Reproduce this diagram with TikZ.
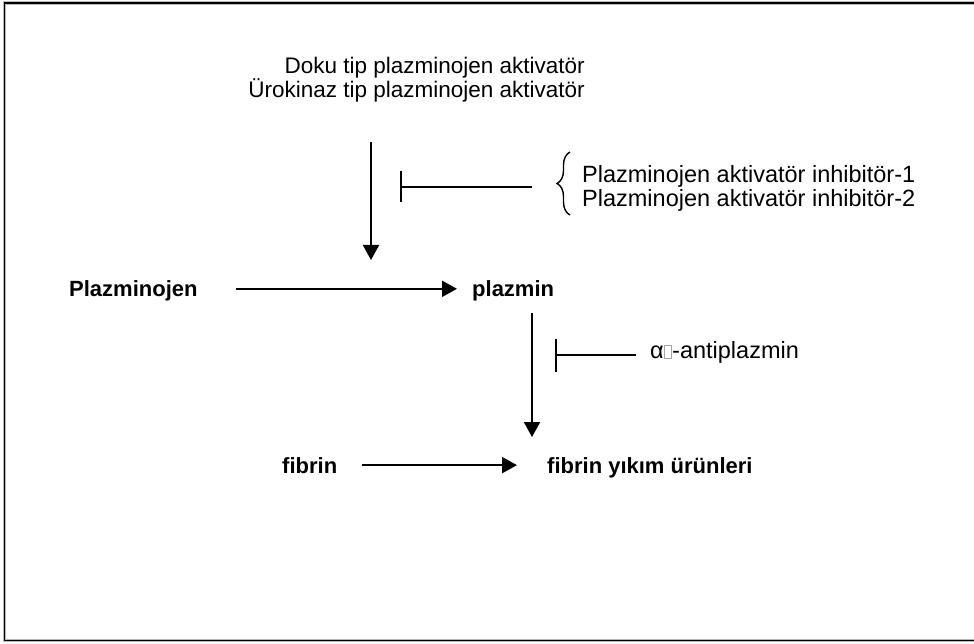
\documentclass[tikz,border=0pt]{standalone}
\usepackage{fontspec}
\setmainfont{Liberation Sans}
\usepackage{xcolor}
\usetikzlibrary{arrows.meta,decorations.pathreplacing}
\newcommand{\missingbox}{{\setlength{\fboxsep}{0pt}\setlength{\fboxrule}{0.7pt}\color{gray!70}\fbox{\rule{0pt}{12pt}\hspace{7pt}}}}
\tikzset{
  reaction/.style={line width=2pt,-{Triangle[length=15pt,width=16pt]}},
  inhibit/.style={line width=2pt,-{Bar[width=31pt,line width=2pt]}},
  actlbl/.style={inner sep=0pt,font=\fontsize{22.5}{25}\selectfont},
  inhlbl/.style={inner sep=0pt,font=\fontsize{23.5}{25}\selectfont},
  species/.style={inner sep=0pt,font=\bfseries\fontsize{22}{25}\selectfont},
}
\begin{document}
\begin{tikzpicture}[x=1pt,y=-1pt]
\useasboundingbox (0,0) rectangle (974,644);
\clip (0,0) rectangle (974,644);
% frame
\draw[gray!55,line width=3.5pt] (4.5,3) rectangle (1000,640.5);
\draw[line width=1.8pt] (4.5,3) rectangle (1000,640.5);
% activators
\node[actlbl,anchor=base east] (tpa) at (585,74) {Doku tip plazminojen aktivatör};
\node[actlbl,anchor=base east] (upa) at (585,98) {Ürokinaz tip plazminojen aktivatör};
\coordinate (act top) at (371,142);
\coordinate (act end) at (371,260);
\draw[reaction] (act top) -- (act end);
% PAI-1, PAI-2
\node[inhlbl,anchor=base west] (pai1) at (582,183) {Plazminojen aktivatör inhibitör-1};
\node[inhlbl,anchor=base west] (pai2) at (582,207) {Plazminojen aktivatör inhibitör-2};
\coordinate (pai from) at (532,187);
\coordinate (pai to) at (400,187);
\draw[inhibit] (pai from) -- (pai to);
\draw[line width=1.4pt,decorate,decoration={brace,amplitude=13pt,aspect=0.5}] (570,215) -- (570,152);
% plasminogen to plasmin
\node[species,anchor=base west] (plg) at (69,297) {Plazminojen};
\node[species,anchor=base west] (pln) at (472,297) {plazmin};
\draw[reaction,shorten <=38pt,shorten >=15pt] ([yshift=2.5pt]plg.east) -- ([yshift=2.5pt]plg.east -| pln.west);
% plasmin on fibrin
\coordinate (pln low) at (532,313);
\coordinate (fbn high) at (532,437);
\draw[reaction] (pln low) -- (fbn high);
\node[inhlbl,anchor=base west] (a2ap) at (650,358) {α\missingbox-antiplazmin};
\coordinate (a2ap from) at (636,355);
\coordinate (a2ap to) at (555,355);
\draw[inhibit,-{Bar[width=33pt,line width=2pt]}] (a2ap from) -- (a2ap to);
% fibrin degradation
\node[species,anchor=base west] (fbn) at (282,473) {fibrin};
\node[species,anchor=base west] (fdp) at (547,473) {fibrin yıkım ürünleri};
\draw[reaction,shorten <=25pt,shorten >=30pt] (fbn.east) -- (fbn.east -| fdp.west);
\end{tikzpicture}
\end{document}
